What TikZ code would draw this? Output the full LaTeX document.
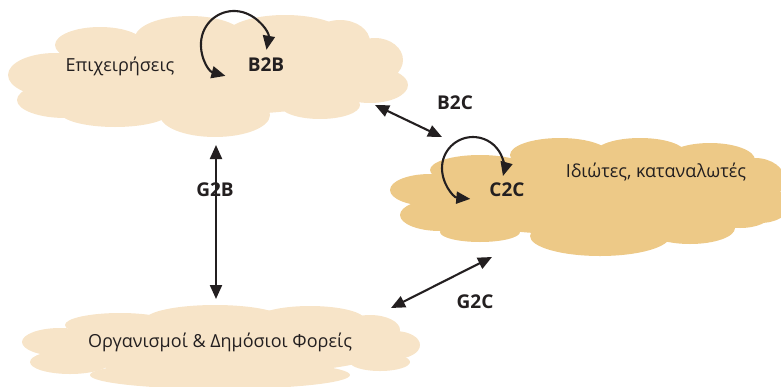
\documentclass[tikz,border=0pt]{standalone}
\usepackage{fontspec}
\setmainfont{Open Sans}
\usetikzlibrary{arrows.meta,calc}

\definecolor{cloudlight}{RGB}{247,228,200}
\definecolor{clouddark}{RGB}{237,201,135}
\definecolor{inkgray}{RGB}{35,31,32}

\tikzset{
  label/.style={text=inkgray, font=\fontsize{18}{21}\selectfont},
  flow/.style={text=inkgray, font=\fontsize{19}{22}\selectfont\bfseries},
  link/.style={draw=inkgray, line width=2.1pt, {Triangle[length=14pt,width=12pt]}-{Triangle[length=14pt,width=12pt]}}
}

\begin{document}
\begin{tikzpicture}[x=1pt,y=-1pt]
\useasboundingbox (0,0) rectangle (781,386);

% Epixeiriseis
\fill[cloudlight] (210,75) ellipse [x radius=180, y radius=40];
\fill[cloudlight] (55,75) ellipse [x radius=47, y radius=22];
\fill[cloudlight] (65,100) ellipse [x radius=48, y radius=18];
\fill[cloudlight] (100,45) ellipse [x radius=45, y radius=18];
\fill[cloudlight] (190,38) ellipse [x radius=55, y radius=22];
\fill[cloudlight] (285,36) ellipse [x radius=60, y radius=21];
\fill[cloudlight] (340,42) ellipse [x radius=30, y radius=22];
\fill[cloudlight] (375,60) ellipse [x radius=28, y radius=22];
\fill[cloudlight] (370,85) ellipse [x radius=38, y radius=18];
\fill[cloudlight] (320,105) ellipse [x radius=40, y radius=14];
\fill[cloudlight] (215,115) ellipse [x radius=55, y radius=22];
\fill[cloudlight] (115,112) ellipse [x radius=55, y radius=15];

% Idiotes
\fill[clouddark] (590,195) ellipse [x radius=180, y radius=40];
\fill[clouddark] (430,190) ellipse [x radius=40, y radius=16];
\fill[clouddark] (440,215) ellipse [x radius=40, y radius=16];
\fill[clouddark] (480,170) ellipse [x radius=50, y radius=15];
\fill[clouddark] (560,155) ellipse [x radius=50, y radius=17];
\fill[clouddark] (640,153) ellipse [x radius=45, y radius=15];
\fill[clouddark] (710,160) ellipse [x radius=45, y radius=17];
\fill[clouddark] (755,180) ellipse [x radius=30, y radius=22];
\fill[clouddark] (760,205) ellipse [x radius=30, y radius=18];
\fill[clouddark] (480,232) ellipse [x radius=40, y radius=10];
\fill[clouddark] (600,236) ellipse [x radius=70, y radius=20];
\fill[clouddark] (690,228) ellipse [x radius=45, y radius=16];
\fill[clouddark] (740,215) ellipse [x radius=30, y radius=13];

% Foreis
\fill[cloudlight] (220,345) ellipse [x radius=175, y radius=30];
\fill[cloudlight] (60,342) ellipse [x radius=38, y radius=14];
\fill[cloudlight] (70,362) ellipse [x radius=40, y radius=12];
\fill[cloudlight] (120,325) ellipse [x radius=55, y radius=12];
\fill[cloudlight] (215,320) ellipse [x radius=70, y radius=15];
\fill[cloudlight] (310,320) ellipse [x radius=55, y radius=14];
\fill[cloudlight] (370,330) ellipse [x radius=30, y radius=15];
\fill[cloudlight] (395,345) ellipse [x radius=25, y radius=14];
\fill[cloudlight] (380,362) ellipse [x radius=30, y radius=9];
\fill[cloudlight] (220,375) ellipse [x radius=130, y radius=14];

\node[label] (biz) at (120,66) {Επιχειρήσεις};
\node[flow] (b2b) at (266,65) {B2B};
\node[label] (cons) at (656,172) {Ιδιώτες, καταναλωτές};
\node[flow] (c2c) at (507,190) {C2C};
\node[label] (gov) at (220,342) {Οργανισμοί \& Δημόσιοι Φορείς};
\node[flow] (b2c) at (455,103) {B2C};
\node[flow] (g2b) at (215,190) {G2B};
\node[flow] (g2c) at (475,302) {G2C};

\coordinate (b2bc) at (234,44);
\coordinate (c2cc) at (473,168);
\draw[link] ($(b2bc)+(105:33)$) arc[start angle=105, end angle=370, radius=33];
\draw[link] ($(c2cc)+(95:31)$) arc[start angle=95, end angle=375, radius=31];

\coordinate (bizse) at (375,105);
\coordinate (consnw) at (442,137);
\coordinate (bizs) at (216,145);
\coordinate (govn) at (216,299);
\coordinate (govne) at (391,308);
\coordinate (consw) at (492,257);
\draw[link] (bizse) -- (consnw);
\draw[link] (bizs) -- (govn);
\draw[link] (govne) -- (consw);
\end{tikzpicture}
\end{document}
